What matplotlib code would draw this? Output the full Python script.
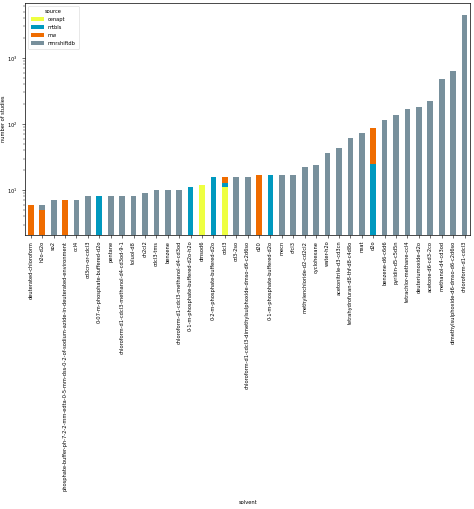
import numpy as np
import matplotlib
matplotlib.use("Agg")
import matplotlib.pyplot as plt

# solvents, sorted by total number of studies
solvents = [
    "deuterated-chloroform", "h2o-d2o", "so2",
    "phosphate-buffer-ph-7-2-2-mm-edta-0-5-mm-dss-0-2-of-sodium-azide-in-deuterated-environment",
    "ccl4", "cd3cn-or-cdcl3", "0-07-m-phosphate-buffered-d2o", "pentane",
    "chloroform-d1-cdcl3-methanol-d4-cd3od-9-1", "toluol-d8", "ch2cl2", "cdcl3-tms",
    "benzene", "chloroform-d1-cdcl3-methanol-d4-cd3od", "0-1-m-phosphate-buffered-d2o-h2o",
    "dmsod6", "0-2-m-phosphate-buffered-d2o", "cdcl3", "cd3-2so",
    "chloroform-d1-cdcl3-dimethylsulphoxide-dmso-d6-c2d6so", "d20",
    "0-1-m-phosphate-buffered-d2o", "mecn", "cfcl3", "methylenchloride-d2-cd2cl2",
    "cyclohexane", "water-h2o", "acetonitrile-d3-cd3cn", "tetrahydrofuran-d8-thf-d8-c4d8o",
    "neat", "d2o", "benzene-d6-c6d6", "pyridin-d5-c5d5n", "tetrachlor-methane-ccl4",
    "deuteriumoxide-d2o", "acetone-d6-cd3-2co", "methanol-d4-cd3od",
    "dimethylsulphoxide-d6-dmso-d6-c2d6so", "chloroform-d1-cdcl3",
]

cenapt = [0, 0, 0, 0, 0, 0, 0, 0, 0, 0, 0, 0, 0, 0, 0, 12, 0, 11, 0, 0,
          0, 0, 0, 0, 0, 0, 0, 0, 0, 0, 0, 0, 0, 0, 0, 0, 0, 0, 0]
mtbls = [0, 0, 0, 0, 0, 0, 8, 0, 0, 0, 0, 0, 0, 0, 11, 0, 16, 2, 0, 0,
         0, 17, 0, 0, 0, 0, 0, 0, 0, 0, 25, 0, 0, 0, 0, 0, 0, 0, 0]
mw = [6, 5, 0, 7, 0, 0, 0, 0, 0, 0, 0, 0, 0, 0, 0, 0, 0, 3, 0, 0,
      17, 0, 0, 0, 0, 0, 0, 0, 0, 0, 63, 0, 0, 0, 0, 0, 0, 0, 0]
nmrshiftdb = [0, 1, 7, 0, 7, 8, 0, 8, 8, 8, 9, 10, 10, 10, 0, 0, 0, 0, 16, 16,
              0, 0, 17, 17, 22, 24, 37, 43, 61, 73, 0, 116, 135, 169, 179, 223, 486, 636, 4490]

sources = ["cenapt", "mtbls", "mw", "nmrshiftdb"]
colors = ["#eeff41", "#0099bf", "#ef6c00", "#78909c"]

fs = 3.7

fig = plt.figure(figsize=(4.74, 5.09), dpi=100)
ax = fig.add_axes([0.053, 0.538, 0.939, 0.456])

x = np.arange(len(solvents))
bottom = np.zeros(len(solvents))
for name, vals, c in zip(sources, [cenapt, mtbls, mw, nmrshiftdb], colors):
    vals = np.array(vals, dtype=float)
    ax.bar(x, vals, 0.5, bottom=bottom, color=c, label=name, log=True)
    bottom += vals

ax.set_yscale("log")
ax.set_ylim(2.08, 6750)
ax.set_xlim(-0.5, len(solvents) - 0.5)
ax.set_xticks(x)
ax.set_xticklabels(solvents, rotation=90, fontsize=fs)
ax.tick_params(axis="y", labelsize=fs, length=2, width=0.4)
ax.tick_params(axis="y", which="minor", length=1.2, width=0.3)
ax.tick_params(axis="x", length=2, width=0.4, pad=2)
for s in ax.spines.values():
    s.set_linewidth(0.5)
ax.set_xlabel("solvent", fontsize=fs)
ax.set_ylabel("number of studies", fontsize=fs)
ax.yaxis.set_label_coords(-0.042, 0.5)
ax.xaxis.set_label_coords(0.5, -1.14)

leg = ax.legend(title="source", loc="upper left", fontsize=fs, title_fontsize=fs,
                handlelength=2.5, handleheight=0.9, borderpad=0.6, labelspacing=0.6)
leg.get_frame().set_linewidth(0.4)

fig.savefig("out.png", dpi=100)
